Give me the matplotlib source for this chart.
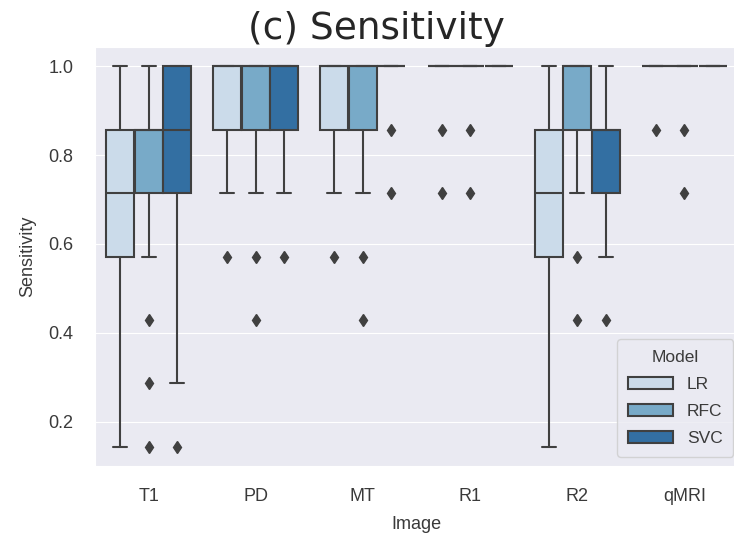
import matplotlib
matplotlib.use('Agg')
import matplotlib.pyplot as plt
import seaborn as sns
from matplotlib.patches import Patch


IMAGES = ['T1', 'PD', 'MT', 'R1', 'R2', 'qMRI']
MODELS = ['LR', 'RFC', 'SVC']

# box statistics per model, one entry per image (sensitivity steps of 1/7)
LR_Q1 = [0.571, 0.857, 0.857, 1.0, 0.571, 1.0]
LR_MED = [0.714, 1.0, 1.0, 1.0, 0.714, 1.0]
LR_Q3 = [0.857, 1.0, 1.0, 1.0, 0.857, 1.0]
LR_LO = [0.143, 0.714, 0.714, 1.0, 0.143, 1.0]
LR_HI = [1.0, 1.0, 1.0, 1.0, 1.0, 1.0]
LR_FLIERS = [[], [0.571], [0.571], [0.857, 0.714], [], [0.857]]

RFC_Q1 = [0.714, 0.857, 0.857, 1.0, 0.857, 1.0]
RFC_MED = [0.857, 1.0, 1.0, 1.0, 1.0, 1.0]
RFC_Q3 = [0.857, 1.0, 1.0, 1.0, 1.0, 1.0]
RFC_LO = [0.571, 0.714, 0.714, 1.0, 0.714, 1.0]
RFC_HI = [1.0, 1.0, 1.0, 1.0, 1.0, 1.0]
RFC_FLIERS = [[0.429, 0.286, 0.143], [0.571, 0.429], [0.571, 0.429],
              [0.857, 0.714], [0.571, 0.429], [0.857, 0.714]]

SVC_Q1 = [0.714, 0.857, 1.0, 1.0, 0.714, 1.0]
SVC_MED = [0.857, 1.0, 1.0, 1.0, 0.857, 1.0]
SVC_Q3 = [1.0, 1.0, 1.0, 1.0, 0.857, 1.0]
SVC_LO = [0.286, 0.714, 1.0, 1.0, 0.571, 1.0]
SVC_HI = [1.0, 1.0, 1.0, 1.0, 1.0, 1.0]
SVC_FLIERS = [[0.143], [0.571], [0.857, 0.714], [], [0.429], []]

STATS = {
    'LR': (LR_Q1, LR_MED, LR_Q3, LR_LO, LR_HI, LR_FLIERS),
    'RFC': (RFC_Q1, RFC_MED, RFC_Q3, RFC_LO, RFC_HI, RFC_FLIERS),
    'SVC': (SVC_Q1, SVC_MED, SVC_Q3, SVC_LO, SVC_HI, SVC_FLIERS),
}


def box_stats(model):
    q1, med, q3, lo, hi, fl = STATS[model]
    return [dict(q1=q1[i], med=med[i], q3=q3[i], whislo=lo[i], whishi=hi[i],
                 fliers=fl[i]) for i in range(len(IMAGES))]


sns.set_style('darkgrid')
plt.rcParams['font.family'] = ['Liberation Sans', 'DejaVu Sans']

fig = plt.figure(figsize=(7.34, 5.35), dpi=100)
ax = fig.add_axes([95 / 734, 0.129, 643 / 734, 0.783])

palette = [sns.desaturate(c, 0.75) for c in sns.color_palette('Blues', 3)]
gray = '#404040'
each = 0.8 / len(MODELS)
width = each * 0.98

for j, model in enumerate(MODELS):
    offset = -0.4 + each / 2 + j * each
    positions = [i + offset for i in range(len(IMAGES))]
    ax.bxp(box_stats(model), positions=positions, widths=width,
           patch_artist=True, manage_ticks=False,
           boxprops=dict(facecolor=palette[j], edgecolor=gray, linewidth=1.5),
           medianprops=dict(color=gray, linewidth=1.5),
           whiskerprops=dict(color=gray, linewidth=1.5),
           capprops=dict(color=gray, linewidth=1.5),
           flierprops=dict(marker='d', markersize=6, markerfacecolor=gray,
                           markeredgecolor=gray, linestyle='none'))

ax.set_xlim(-0.5, len(IMAGES) - 0.5)
ax.set_ylim(0.1, 1.043)
ax.set_xticks(range(len(IMAGES)))
ax.set_xticklabels(IMAGES)
ax.set_yticks([0.2, 0.4, 0.6, 0.8, 1.0])
ax.xaxis.grid(False)
ax.tick_params(labelsize=13, colors='#3a3a3a', pad=12)
ax.set_xlabel('Image', fontsize=13, color='#3a3a3a', labelpad=8)
ax.set_ylabel('Sensitivity', fontsize=13, color='#3a3a3a', labelpad=9)

handles = [Patch(facecolor=palette[j], edgecolor=gray, linewidth=1.5, label=m)
           for j, m in enumerate(MODELS)]
leg = ax.legend(handles=handles, title='Model', loc='lower right',
                bbox_to_anchor=(733 / 734, 0.146), bbox_transform=fig.transFigure,
                borderaxespad=0, fontsize=12.5, title_fontsize=12.5,
                handlelength=2.6, handletextpad=0.8, labelspacing=0.7,
                borderpad=0.6)
leg.get_title().set_color('#3a3a3a')
for t in leg.get_texts():
    t.set_color('#3a3a3a')

fig.text(376 / 734, 1 - 39 / 535, '(c) Sensitivity', ha='center', va='baseline',
         fontsize=27, family='DejaVu Sans')

fig.savefig('out.png', dpi=100)
